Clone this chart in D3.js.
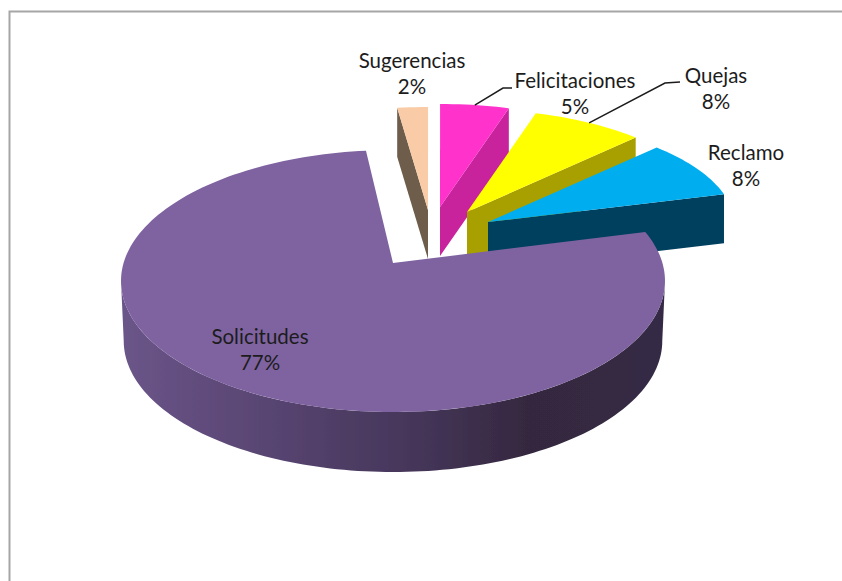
<!DOCTYPE html>
<html><head><meta charset="utf-8">
<script src="https://d3js.org/d3.v7.min.js"></script>
<style>html,body{margin:0;padding:0;background:#fff}svg{display:block}</style>
</head><body><svg id="c" width="842" height="581"></svg>
<script>
// Data
const categories = ["Sugerencias","Felicitaciones","Quejas","Reclamo","Solicitudes"];
const values = [2,4.5,7.5,8.4,77.4];

// Styles and layout
const topColors = ["#f9cba6","#ff33cc","#ffff00","#00aeef","#7f63a1"];
const sideColors = ["#6e5d4c","#c8219c","#a8a000","#00405f","url(#mainSide)"];
const apexes = [[428,210],[440,207],[467,212],[488,222],[393,263]];
const labelPos = [[412,68],[575,88],[716,83],[746,160],[260,344]];
const elbows = [null,[[503,88],[512,88]],[[665,83],[680,82]],null,null];
const W=842,H=581,rad=Math.PI/180;
const exploded={a:246,b:105,k:2,depth:49};
const main={a:272,b:131,k:18,depth:60};

const svg=d3.select("#c");
const defs=svg.append("defs");
const grad=defs.append("linearGradient").attr("id","mainSide").attr("gradientUnits","userSpaceOnUse")
  .attr("x1",121).attr("x2",665).attr("y1",0).attr("y2",0);
[[0,"#6b5589"],[0.3,"#56436f"],[0.55,"#443558"],[0.75,"#35283f"],[1,"#362a45"]].forEach(s=>
  grad.append("stop").attr("offset",s[0]).attr("stop-color",s[1]));
defs.append("filter").attr("id","soft").append("feGaussianBlur").attr("stdDeviation",0.55);

// Frame
svg.append("path").attr("d",`M9.5,581V11.5H842`).attr("fill","none").attr("stroke","#a6a6a6").attr("stroke-width",2);

const pie=d3.pie().sort(null).startAngle(-7.2*rad).endAngle(352.8*rad)(values);
const mainAngle=d3.scaleLinear().domain([pie[4].startAngle,pie[4].endAngle]).range([68*rad,354.3*rad]);
const line=d3.line().x(d=>d[0]).y(d=>d[1]);

function rim(apex,g,th,dz=0){
  return [apex[0]+g.a*Math.sin(th), apex[1]+g.k-g.b*Math.cos(th)+dz];
}
function samples(a,b){
  const n=Math.max(2,Math.ceil(Math.abs(b-a)/(rad*1.5)));
  return d3.range(n+1).map(i=>a+(b-a)*i/n);
}

const marks=svg.append("g").attr("filter","url(#soft)");
pie.forEach((p,i)=>{
  const isMain=i===4, g=isMain?main:exploded, ap=apexes[i];
  const a0=isMain?mainAngle(p.startAngle):p.startAngle;
  const a1=isMain?mainAngle(p.endAngle):p.endAngle;
  const bottom=[ap[0],ap[1]+g.depth];
  const face=th=>line([ap,rim(ap,g,th),rim(ap,g,th,g.depth),bottom])+"Z";
  const grp=marks.append("g");
  if(Math.sin(a0)<-0.01) grp.append("path").attr("d",face(a0)).attr("fill",sideColors[i]);
  if(Math.sin(a1)>0.01) grp.append("path").attr("d",face(a1)).attr("fill",sideColors[i]);
  if(isMain){
    const front=samples(90*rad,270*rad);
    const pts=front.map(t=>rim(ap,g,t)).concat(front.slice().reverse().map(t=>{
      const r=rim(ap,g,t,g.depth); return [ap[0]+(r[0]-ap[0])*0.99,r[1]];}));
    grp.append("path").attr("d",line(pts)+"Z").attr("fill",sideColors[i]);
  }
  const top=[ap].concat(samples(a0,a1).map(t=>rim(ap,g,t)));
  grp.append("path").attr("d",line(top)+"Z").attr("fill",topColors[i]);
});

// Leader lines
pie.forEach((p,i)=>{
  if(!elbows[i]) return;
  const s=rim(apexes[i],exploded,(p.startAngle+p.endAngle)/2);
  svg.append("path").attr("d",line([s].concat(elbows[i]))).attr("fill","none").attr("stroke","#1c1c1c").attr("stroke-width",1.5);
});

// Labels
const fmt=v=>Math.round(v)+"%";
categories.forEach((c,i)=>{
  const t=svg.append("text").attr("text-anchor","middle").attr("font-family","Lato, 'Open Sans', sans-serif")
    .attr("font-size",20.5).attr("fill","#1c1c1c");
  t.append("tspan").attr("x",labelPos[i][0]).attr("y",labelPos[i][1]).text(c);
  t.append("tspan").attr("x",labelPos[i][0]).attr("y",labelPos[i][1]+26).text(fmt(values[i]));
});
</script></body></html>
